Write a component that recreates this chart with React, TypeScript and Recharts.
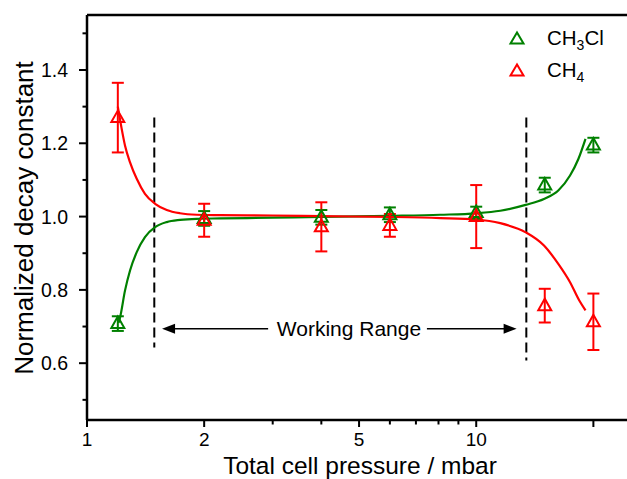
import React from "react";
import { ComposedChart, Line, Scatter, ErrorBar, XAxis, YAxis, ReferenceLine, ReferenceDot } from "recharts";

// measured points (pressure in mbar)
const pressures = [1.2, 2, 4, 6, 10, 15, 20];
const ch3clValues = [0.708, 0.995, 0.998, 1.005, 1.011, 1.086, 1.195];
const ch3clErrors = [0.02, 0.02, 0.02, 0.02, 0.016, 0.02, 0.02];
const ch4Values = [1.27, 0.99, 0.972, 0.976, 1.0, 0.757, 0.713];
const ch4Errors = [0.095, 0.045, 0.067, 0.031, 0.086, 0.046, 0.077];

// fitted curves
const fitCh3clX = [1.205, 1.216, 1.252, 1.29, 1.342, 1.409, 1.496, 1.603, 1.734, 1.913, 2.2, 3, 4, 6, 8.08, 10, 11.53, 13.4, 14.93, 16.25, 17.42, 18.3, 19.09];
const fitCh3clY = [0.71, 0.725, 0.798, 0.853, 0.903, 0.944, 0.971, 0.985, 0.991, 0.994, 0.995, 0.997, 0.999, 1.002, 1.005, 1.009, 1.016, 1.032, 1.048, 1.071, 1.112, 1.157, 1.212];
const fitCh4X = [1.2, 1.225, 1.252, 1.29, 1.342, 1.409, 1.496, 1.603, 1.734, 1.913, 2.2, 3, 4, 6, 8.08, 10, 11.53, 13.4, 14.93, 16.25, 17.42, 18.4, 19.09];
const fitCh4Y = [1.3, 1.245, 1.194, 1.148, 1.103, 1.062, 1.035, 1.018, 1.009, 1.005, 1.004, 1.003, 1.001, 0.999, 0.996, 0.992, 0.982, 0.957, 0.921, 0.871, 0.821, 0.771, 0.744];

const xLabelTicks = [1, 2, 5, 10];
const xMajorTicks = [1, 2, 5, 10, 20];
const xTicks = [1, 2, 3, 4, 5, 6, 7, 8, 9, 10, 20];
const yMajorTicks = [0.6, 0.8, 1.0, 1.2, 1.4];
const yMinorTicks = [0.5, 0.7, 0.9, 1.1, 1.3, 1.5];

// working range limits
const rangeLow = 1.489;
const rangeHigh = 13.45;

const GREEN = "#008000";
const RED = "#ff0000";
const FONT = "'Liberation Sans', Arial, sans-serif";

const ch3clPts = pressures.map((x, i) => ({ x, y: ch3clValues[i], err: ch3clErrors[i] }));
const ch4Pts = pressures.map((x, i) => ({ x, y: ch4Values[i], err: ch4Errors[i] }));
const ch3clFit = fitCh3clX.map((x, i) => ({ x, y: fitCh3clY[i] }));
const ch4Fit = fitCh4X.map((x, i) => ({ x, y: fitCh4Y[i] }));
const yTicks = [...yMajorTicks, ...yMinorTicks].sort((a, b) => a - b);

const triangle = (color: string) => (props: any) => {
  const { cx, cy } = props;
  return (
    <polygon
      points={`${cx},${cy - 7} ${cx - 6.5},${cy + 4.5} ${cx + 6.5},${cy + 4.5}`}
      fill="none"
      stroke={color}
      strokeWidth={2}
    />
  );
};

const XTick = (props: any) => {
  const { x, y, payload } = props;
  const v = payload.value;
  const major = xMajorTicks.includes(v);
  return (
    <g>
      <line x1={x} y1={y} x2={x} y2={y + (major ? 7 : 4.5)} stroke="#000" strokeWidth={2} />
      {xLabelTicks.includes(v) && (
        <text x={x} y={y + 26} textAnchor="middle" fontSize={19} fontFamily={FONT} fill="#000">
          {v}
        </text>
      )}
    </g>
  );
};

const YTick = (props: any) => {
  const { x, y, payload } = props;
  const v = payload.value;
  const major = yMajorTicks.includes(v);
  return (
    <g>
      <line x1={x - (major ? 8 : 4.5)} y1={y} x2={x} y2={y} stroke="#000" strokeWidth={2} />
      {major && (
        <text x={x - 19} y={y + 7} textAnchor="end" fontSize={19.5} fontFamily={FONT} fill="#000">
          {v.toFixed(1)}
        </text>
      )}
    </g>
  );
};

const Arrow = (props: any) => {
  const { x1, y1, x2, y2 } = props;
  const dir = Math.sign(x2 - x1) || 1;
  return (
    <g>
      <line x1={x1} y1={y1} x2={x2 - dir * 10} y2={y2} stroke="#000" strokeWidth={1.5} />
      <polygon points={`${x2},${y2} ${x2 - dir * 13},${y2 - 5} ${x2 - dir * 13},${y2 + 5}`} fill="#000" />
    </g>
  );
};

const legendItems = [
  { name: "CH", sub: "3", rest: "Cl", color: GREEN },
  { name: "CH", sub: "4", rest: "", color: RED },
];

export default function App() {
  return (
    <div style={{ position: "absolute", left: 0, top: 0, width: 627, height: 479, background: "#fff" }}>
      <ComposedChart width={627} height={479} margin={{ top: 15, right: 0, bottom: 0, left: 0 }}>
        <XAxis
          dataKey="x"
          type="number"
          scale="log"
          domain={[1, 24.4]}
          allowDataOverflow
          ticks={xTicks}
          interval={0}
          tick={<XTick />}
          tickLine={false}
          tickSize={0}
          tickMargin={0}
          height={59}
          axisLine={{ stroke: "#000", strokeWidth: 2.5 }}
          label={{
            content: () => (
              <text x={360} y={473.5} textAnchor="middle" fontSize={24.5} fontFamily={FONT} fill="#000">
                Total cell pressure / mbar
              </text>
            ),
          }}
        />
        <YAxis
          dataKey="y"
          type="number"
          domain={[0.445, 1.55]}
          allowDataOverflow
          ticks={yTicks}
          interval={0}
          tick={<YTick />}
          tickLine={false}
          tickSize={0}
          tickMargin={0}
          width={87}
          axisLine={{ stroke: "#000", strokeWidth: 2.5 }}
          label={{
            content: () => (
              <text transform="translate(33,218) rotate(-90)" textAnchor="middle" fontSize={26} fontFamily={FONT} fill="#000">
                Normalized decay constant
              </text>
            ),
          }}
        />
        <ReferenceLine y={1.55} stroke="#000" strokeWidth={2.5} ifOverflow="visible" />
        <ReferenceLine
          segment={[{ x: rangeLow, y: 1.27 }, { x: rangeLow, y: 0.643 }]}
          stroke="#000"
          strokeWidth={2}
          strokeDasharray="10 5"
        />
        <ReferenceLine
          segment={[{ x: rangeHigh, y: 1.27 }, { x: rangeHigh, y: 0.607 }]}
          stroke="#000"
          strokeWidth={2}
          strokeDasharray="10 5"
        />
        <ReferenceLine segment={[{ x: 2.92, y: 0.694 }, { x: 1.559, y: 0.694 }]} shape={<Arrow />} />
        <ReferenceLine segment={[{ x: 7.47, y: 0.694 }, { x: 12.7, y: 0.694 }]} shape={<Arrow />} />
        <ReferenceDot
          x={4.71}
          y={0.694}
          r={0}
          shape={(p: any) => (
            <text x={p.cx} y={p.cy + 7} textAnchor="middle" fontSize={21} fontFamily={FONT} fill="#000">
              Working Range
            </text>
          )}
        />
        <Line data={ch3clFit} dataKey="y" type="monotone" stroke={GREEN} strokeWidth={2.2} dot={false} activeDot={false} isAnimationActive={false} />
        <Line data={ch4Fit} dataKey="y" type="monotone" stroke={RED} strokeWidth={2.2} dot={false} activeDot={false} isAnimationActive={false} />
        <Scatter data={ch3clPts} dataKey="y" shape={triangle(GREEN)} isAnimationActive={false}>
          <ErrorBar dataKey="err" direction="y" width={6} stroke={GREEN} strokeWidth={2} />
        </Scatter>
        <Scatter data={ch4Pts} dataKey="y" shape={triangle(RED)} isAnimationActive={false}>
          <ErrorBar dataKey="err" direction="y" width={6} stroke={RED} strokeWidth={2} />
        </Scatter>
      </ComposedChart>
      <div style={{ position: "absolute", left: 508, top: 22, fontFamily: FONT, fontSize: 20.5, color: "#000" }}>
        {legendItems.map((it) => (
          <div key={it.sub} style={{ display: "flex", alignItems: "center", height: 32 }}>
            <svg width={18} height={16}>
              <polygon points="9,2.5 2.5,13.5 15.5,13.5" fill="none" stroke={it.color} strokeWidth={2} />
            </svg>
            <span style={{ marginLeft: 21, lineHeight: "20px" }}>
              {it.name}
              <sub style={{ fontSize: 14, verticalAlign: "-5px", lineHeight: 0 }}>{it.sub}</sub>
              {it.rest}
            </span>
          </div>
        ))}
      </div>
    </div>
  );
}
